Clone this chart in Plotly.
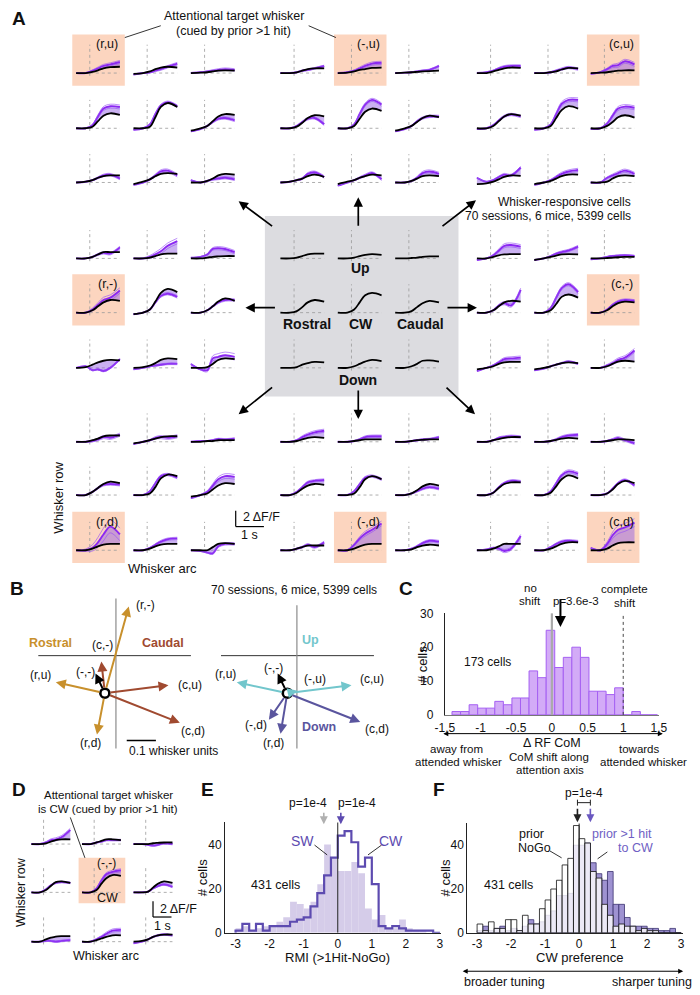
import numpy as np
import plotly.graph_objects as go

W, H = 700, 995
FONT = "Liberation Sans, Arial, Helvetica, sans-serif"

# ---------------- Panel A / D mini traces (dF/F vs time) ----------------
T_MINI = [-0.5, -0.15, 0.1, 0.3, 0.5, 0.75, 1.1]      # s, stimulus at 0
ENV_W = [0.0, 0.2, 0.5, 0.8, 1.0, 1.0, 1.0]           # relative SEM envelope

# groups: 9 sub-panels row-major (rows: up / - / down, cols: rostral / - / caudal)
BLK_RU = [[0, 0, 0.15, 0.35, 0.6, 0.75, 0.8], [-0.1, 0, 0.2, 0.5, 0.7, 0.8, 0.7], [0, 0.05, 0.1, 0.2, 0.3, 0.35, 0.3],
          [0, 0, 0.2, 0.9, 1.6, 1.9, 1.7], [0, 0, 0.2, 1.4, 2.7, 3.2, 2.7], [-0.3, 0, 0.3, 0.9, 1.5, 1.8, 1.7],
          [0, 0.1, 0.3, 0.6, 0.8, 0.9, 0.9], [-0.2, 0.1, 0.4, 0.8, 1.1, 1.2, 1.1], [0, 0, 0.2, 0.5, 0.9, 1.1, 1.0]]
PUR_RU = [[0, 0, 0.3, 0.6, 0.9, 1.1, 1.4], [-0.2, 0, 0.1, 0.3, 0.5, 0.8, 1.2], [0, 0.1, 0.2, 0.3, 0.4, 0.5, 0.4],
          [0, 0, 0.4, 1.5, 2.5, 2.8, 2.7], [-0.2, 0, 0.5, 1.8, 2.9, 3.3, 2.8], [-0.4, -0.1, 0.3, 0.8, 1.2, 1.3, 1.0],
          [0, 0.1, 0.3, 0.6, 0.9, 1.0, 0.5], [-0.3, 0, 0.4, 0.9, 1.4, 1.5, 0.9], [0.3, 0, 0.2, 0.4, 0.5, 0.6, 0.4]]
ERR_RU = [0.2, 0.15, 0.15, 0.25, 0.15, 0.15, 0.15, 0.2, 0.15]

BLK_MU = [[0, 0, 0.1, 0.3, 0.5, 0.6, 0.6], [0, 0.05, 0.2, 0.4, 0.5, 0.65, 0.7], [0, 0.05, 0.1, 0.15, 0.2, 0.25, 0.3],
          [0, 0, 0.2, 0.7, 1.3, 1.65, 1.5], [0, 0, 0.3, 1.2, 2.1, 2.5, 2.2], [-0.3, 0, 0.3, 0.8, 1.3, 1.6, 1.4],
          [0, 0.1, 0.3, 0.5, 0.8, 1.0, 0.7], [-0.2, 0.1, 0.3, 0.6, 0.8, 1.0, 0.9], [0, 0, 0.2, 0.5, 0.8, 0.9, 0.8]]
PUR_MU = [[0, 0, 0.1, 0.3, 0.4, 0.6, 0.9], [0, 0.1, 0.3, 0.6, 0.9, 1.2, 1.3], [0, 0.05, 0.1, 0.2, 0.3, 0.4, 0.9],
          [0, 0, 0.3, 0.8, 1.2, 1.3, 0.5], [0, 0, 0.5, 1.8, 3.0, 3.6, 3.0], [-0.4, -0.1, 0.3, 0.9, 1.3, 1.5, 1.5],
          [0, 0.1, 0.3, 0.5, 1.1, 1.3, 0.7], [-0.4, 0, 0.3, 0.6, 0.9, 1.2, 0.4], [0, 0, 0.2, 0.6, 1.2, 1.4, 1.1]]
ERR_MU = [0.1, 0.2, 0.1, 0.15, 0.2, 0.15, 0.15, 0.15, 0.2]

BLK_CU = [[0, 0, 0.2, 0.4, 0.6, 0.7, 0.65], [0, 0, 0.1, 0.2, 0.45, 0.65, 0.6], [0, 0.05, 0.1, 0.2, 0.3, 0.35, 0.35],
          [0, 0, 0.3, 0.9, 1.5, 1.8, 1.6], [0, 0, 0.3, 1.3, 2.3, 2.8, 2.5], [0, 0, 0.3, 0.8, 1.4, 1.65, 1.35],
          [-0.2, -0.1, 0.1, 0.4, 0.7, 0.9, 0.85], [-0.2, 0, 0.2, 0.5, 0.8, 1.0, 1.0], [0, 0, 0.1, 0.5, 0.8, 0.9, 0.8]]
PUR_CU = [[0, 0.1, 0.3, 0.6, 0.8, 0.9, 0.9], [0, 0, 0.1, 0.3, 0.5, 0.7, 0.5], [-0.1, 0.1, 0.5, 0.9, 1.0, 1.5, 1.1],
          [-0.1, 0, 0.4, 1.0, 1.5, 1.75, 1.5], [-0.2, 0, 0.5, 1.8, 3.1, 3.6, 3.6], [-0.1, 0, 0.6, 1.6, 2.5, 2.75, 2.6],
          [0.6, 0.1, 0.3, 0.7, 1.0, 0.9, 1.9], [-0.3, 0, 0.3, 0.7, 1.1, 1.4, 1.6], [0, 0, 0.6, 0.9, 1.2, 1.5, 1.1]]
ERR_CU = [0.15, 0.15, 0.25, 0.15, 0.25, 0.25, 0.15, 0.2, 0.2]

BLK_RM = [[0, 0, 0.2, 0.5, 0.8, 0.8, 0.8], [0, 0, 0.1, 0.3, 0.5, 0.6, 0.6], [0, 0, 0.1, 0.2, 0.25, 0.3, 0.3],
          [0, 0, 0.3, 0.8, 1.3, 1.6, 1.5], [-0.2, 0, 0.4, 1.4, 2.5, 3.0, 2.6], [0, 0, 0.3, 0.8, 1.4, 1.8, 1.5],
          [0, 0.1, 0.4, 0.7, 0.9, 1.0, 0.95], [0, 0.1, 0.3, 0.6, 1.0, 1.2, 1.1], [0, 0, 0.1, 0.5, 1.0, 1.2, 1.1]]
PUR_RM = [[0, 0, 0.2, 0.5, 0.7, 0.6, 1.4], [0, 0, 0.2, 0.5, 0.9, 1.6, 2.2], [0.1, 0.2, 0.5, 1.2, 1.3, 1.2, 0.8],
          [0, 0, 0.4, 1.0, 1.6, 1.9, 2.8], [-0.2, 0, 0.4, 1.3, 2.1, 2.4, 2.0], [0, 0, 0.3, 0.8, 1.3, 1.6, 1.6],
          [0, 0.2, -0.3, -0.2, -0.4, 0.0, 1.1], [-0.2, 0, 0.2, 0.3, 0.4, 0.5, 0.5], [0.5, -0.2, -0.3, 1.2, 1.4, 1.6, 1.4]]
ERR_RM = [0.15, 0.35, 0.2, 0.35, 0.15, 0.15, 0.1, 0.1, 0.4]

BLK_CTR = [[0, 0, 0.1, 0.3, 0.5, 0.6, 0.6], [0, 0, 0.1, 0.3, 0.45, 0.55, 0.45], [0, 0, 0.05, 0.1, 0.2, 0.25, 0.25],
           [0, 0, 0.2, 0.7, 1.3, 1.6, 1.4], [0, 0, 0.4, 1.3, 2.2, 2.5, 2.2], [0, 0, 0.2, 0.7, 1.2, 1.5, 1.3],
           [0, 0, 0.1, 0.4, 0.6, 0.75, 0.7], [0, 0, 0.2, 0.5, 0.8, 1.0, 0.85], [0, 0, 0.2, 0.5, 0.9, 0.95, 0.8]]

BLK_CM = [[0, 0, 0.2, 0.4, 0.5, 0.55, 0.55], [-0.2, 0, 0.2, 0.35, 0.5, 0.55, 0.5], [0, 0, 0.05, 0.1, 0.15, 0.2, 0.2],
          [0, 0, 0.3, 0.8, 1.3, 1.5, 1.4], [0, 0, 0.3, 1.1, 2.0, 2.3, 1.9], [0, 0, 0.3, 0.8, 1.2, 1.4, 1.3],
          [-0.2, 0, 0.2, 0.5, 0.7, 0.75, 0.75], [-0.2, 0, 0.2, 0.4, 0.6, 0.7, 0.6], [0, 0, 0.2, 0.5, 0.8, 0.9, 0.8]]
PUR_CM = [[-0.2, 0, 0.4, 1.0, 1.6, 1.7, 1.5], [-0.2, 0, 0.3, 0.6, 0.8, 1.0, 1.5], [-0.1, 0, 0.2, 0.3, 0.35, 0.4, 0.3],
          [0, 0, 0.3, 0.9, 1.2, 0.9, 2.9], [0, 0, 0.6, 1.9, 3.1, 3.6, 2.6], [0, 0, 0.4, 1.0, 1.4, 1.6, 1.5],
          [-0.4, 0, 0.3, 0.7, 1.1, 1.2, 1.3], [-0.3, -0.1, 0.2, 0.4, 0.6, 0.8, 0.5], [0, 0, 0.3, 0.6, 1.0, 1.3, 2.2]]
ERR_CM = [0.25, 0.15, 0.1, 0.2, 0.2, 0.15, 0.2, 0.1, 0.25]

BLK_RD = [[0, 0, 0.2, 0.4, 0.7, 0.8, 0.8], [-0.2, 0, 0.2, 0.4, 0.6, 0.7, 0.7], [0, 0, 0.1, 0.1, 0.2, 0.2, 0.2],
          [0, 0, 0.4, 0.9, 1.4, 1.7, 1.5], [0, 0, 0.2, 1.0, 2.1, 2.6, 2.4], [-0.2, 0, 0.2, 0.7, 1.2, 1.5, 1.4],
          [0, 0, 0.2, 0.5, 0.7, 0.8, 0.8], [0, 0, 0.2, 0.5, 0.7, 0.8, 0.8], [0, 0, 0, 0.4, 0.8, 0.9, 0.8]]
PUR_RD = [[0, 0, 0.1, 0.3, 0.6, 0.5, 0.9], [-0.3, 0, 0.2, 0.5, 0.6, 0.5, 0.7], [0, 0.1, 0.1, 0.2, 0.35, 0.3, 0.4],
          [0, 0, 0.4, 0.9, 1.3, 1.4, 1.3], [0, 0, 0.5, 1.5, 2.4, 2.6, 2.2], [-0.4, 0, 0.4, 1.2, 2.0, 2.4, 2.3],
          [0, 0, 0.3, 1.0, 2.0, 3.0, 2.0], [0, 0, 0.3, 0.7, 1.1, 1.4, 1.5], [0, -0.1, -0.3, -0.4, 0.5, 0.8, 0.8]]
ERR_RD = [0.2, 0.2, 0.1, 0.15, 0.15, 0.3, 0.8, 0.15, 0.15]

BLK_MD = [[0, 0, 0.1, 0.3, 0.5, 0.6, 0.5], [0, 0, 0.1, 0.2, 0.3, 0.3, 0.3], [0, 0, 0.1, 0.2, 0.25, 0.3, 0.3],
          [0, 0, 0.3, 0.8, 1.2, 1.4, 1.3], [0, 0, 0.2, 1.0, 2.0, 2.4, 2.0], [0, 0, 0.2, 0.6, 1.1, 1.4, 1.2],
          [0, 0, 0.2, 0.4, 0.6, 0.6, 0.6], [0, 0, 0.2, 0.5, 0.7, 0.8, 0.8], [0, 0, 0.1, 0.4, 0.6, 0.7, 0.6]]
PUR_MD = [[0, 0, 0.2, 0.6, 0.9, 1.2, 1.4], [0, 0, 0.1, 0.3, 0.6, 0.7, 0.7], [0, 0, 0.1, 0.2, 0.3, 0.35, 0.6],
          [0, 0, 0.4, 1.0, 1.6, 1.8, 1.9], [0, 0, 0.5, 1.4, 2.2, 2.4, 2.0], [0, 0, 0.2, 0.5, 0.8, 1.0, 0.8],
          [0, 0, 0.2, 0.4, 0.7, 0.4, 1.0], [0, 0, 0.7, 1.5, 2.1, 2.6, 3.4], [0, 0, 0.2, 0.5, 0.9, 1.2, 1.1]]
ERR_MD = [0.2, 0.15, 0.1, 0.15, 0.15, 0.15, 0.15, 0.3, 0.15]

BLK_CD = [[0, 0, 0.2, 0.35, 0.5, 0.6, 0.6], [0, 0, 0.1, 0.25, 0.4, 0.5, 0.4], [0, 0, 0.1, 0.2, 0.3, 0.3, 0.2],
          [0, 0, 0.3, 0.9, 1.4, 1.6, 1.6], [0, 0, 0.3, 1.1, 2.0, 2.5, 2.1], [0, 0, 0.2, 0.7, 1.4, 1.8, 1.5],
          [0, 0, 0.2, 0.5, 0.8, 0.8, 0.8], [0, 0, 0.2, 0.5, 0.8, 1.0, 1.0], [0, 0, 0.2, 0.6, 0.9, 1.0, 1.0]]
PUR_CD = [[0, 0, 0.2, 0.5, 0.6, 0.7, 0.6], [0, 0, 0.1, 0.3, 0.6, 0.8, 0.9], [0, 0, 0.1, 0.3, 0.5, 0.2, -0.2],
          [0, 0, 0.3, 1.0, 1.5, 1.8, 1.7], [0, 0, 0.5, 1.5, 2.5, 3.0, 2.7], [0, 0, 0.2, 0.8, 1.5, 1.9, 1.2],
          [0, 0.1, 0.3, 0.2, -0.1, 0.2, 1.8], [0, 0, 0.4, 0.8, 1.1, 1.2, 1.1], [0.3, 0, 0.8, 1.9, 2.6, 2.9, 3.5]]
ERR_CD = [0.15, 0.15, 0.15, 0.15, 0.2, 0.15, 0.2, 0.15, 0.5]

A_BOX_LABELS = ["(r,u)", "(-,u)", "(c,u)", "(r,-)", None, "(c,-)", "(r,d)", "(-,d)", "(c,d)"]

# Panel D (attended whisker = CW)
BLK_D = [[0, 0, 0.1, 0.3, 0.5, 0.6, 0.6], [0, 0, 0.2, 0.4, 0.6, 0.6, 0.5], [0, 0, 0, 0.1, 0.15, 0.2, 0.2],
         [0, 0, 0.3, 0.8, 1.3, 1.4, 1.2], [0, 0, 0.3, 1.1, 1.8, 2.2, 2.1], [0, 0, 0.1, 0.6, 1.1, 1.4, 1.2],
         [0, 0, 0.3, 0.5, 0.65, 0.7, 0.7], [0, 0, 0.2, 0.4, 0.6, 0.8, 0.8], [0, 0.1, 0.3, 0.6, 0.8, 0.9, 0.9]]
PUR_D = [[0, 0, 0.2, 0.5, 0.6, 0.9, 1.8], [0, 0, 0.2, 0.3, 0.5, 0.5, 0.5], [0, 0, -0.1, -0.2, -0.1, 0.1, 0],
         [0, 0, 0.4, 0.9, 1.2, 1.3, 1.2], [0, 0, 0.5, 1.5, 2.3, 2.6, 2.8], [0, 0, 0.1, 0.5, 0.8, 1.0, 0.7],
         [0, 0, 0.1, 0.1, 0, 0.1, 0.2], [0, 0, 0.3, 0.6, 1.0, 1.4, 1.5], [-0.2, 0, 0.3, 0.6, 0.8, 0.9, 0.8]]
ERR_D = [0.2, 0.1, 0.1, 0.1, 0.2, 0.1, 0.1, 0.2, 0.1]

# ---------------- Panel B: RF CoM shift vectors (whisker units) ----------------
B_LEFT_LABELS = ["(r,-)", "(c,-)", "(-,-)", "(r,u)", "(c,u)", "(c,d)", "(r,d)"]
B_LEFT_DX = [0.082, -0.012, -0.032, -0.168, 0.218, 0.257, -0.027]
B_LEFT_DY = [0.293, 0.107, 0.067, 0.037, 0.027, -0.100, -0.140]
B_RIGHT_LABELS = ["(r,u)", "(-,-)", "(-,u)", "(c,u)", "(-,d)", "(r,d)", "(c,d)"]
B_RIGHT_DX = [-0.173, -0.033, 0.035, 0.220, -0.063, -0.023, 0.250]
B_RIGHT_DY = [0.037, 0.067, 0.008, 0.027, -0.090, -0.137, -0.097]

# ---------------- Panel C: histogram of RF CoM shift ----------------
C_BIN_CENTERS = [-1.34, -1.22, -1.10, -0.98, -0.86, -0.74, -0.62, -0.50, -0.38, -0.26, -0.14, -0.02,
                 0.10, 0.22, 0.34, 0.46, 0.58, 0.70, 0.82, 0.94, 1.06, 1.18, 1.30, 1.42]
C_COUNTS = [1, 1, 3, 2, 2, 4, 3, 5, 5, 13, 11, 25, 14, 17, 20, 17, 7, 7, 6, 8, 0, 1, 0, 0]
C_MEDIAN = 0.12

# ---------------- Panel E: RMI histograms ----------------
E_BIN_EDGES = [round(-3 + 0.2 * k, 2) for k in range(31)]
E_SW = [2, 3, 1, 2, 3, 3, 5, 7, 14, 13, 11, 14, 22, 40, 34, 28, 28, 32, 27, 11, 6, 8, 2, 2, 6, 2, 1, 1, 0, 0]
E_CW = [1, 4, 1, 4, 1, 3, 3, 3, 5, 6, 7, 12, 18, 26, 34, 44, 46, 41, 30, 34, 22, 3, 2, 3, 2, 1, 1, 1, 1, 0]
E_MEDIANS = [-0.41, 0.09]   # SW, CW

# ---------------- Panel F: CW preference histograms ----------------
F_BIN_EDGES = [round(-3 + k / 6, 4) for k in range(37)]
F_NOGO = [4, 1, 5, 2, 2, 6, 6, 1, 8, 4, 4, 11, 15, 20, 24, 31, 34, 49, 43, 41, 28, 25, 13, 8,
          3, 4, 3, 3, 1, 2, 1, 1, 0, 0, 0, 0]
F_HIT = [1, 3, 1, 2, 3, 1, 2, 1, 3, 6, 4, 5, 8, 10, 17, 17, 18, 40, 40, 41, 32, 27, 24, 28,
         13, 13, 7, 3, 3, 3, 2, 2, 1, 1, 2, 0]
F_MEDIANS = [-0.05, 0.33]   # NoGo, >1 hit

# ---------------- colours ----------------
PURPLE = "#8c28f2"
PURPLE_FILL = "rgba(150,100,228,0.5)"
PURPLE_THIN = "rgba(150,80,245,0.9)"
ORANGE_BOX = "#fcd5bf"
GRAY_BOX = "#dcdce0"
C_ROSTRAL = "#c8902c"
C_CAUDAL = "#a04a30"
C_UP = "#72c6cc"
C_DOWN = "#5a559e"
E_DARK = "#5d4bb0"
E_LIGHT = "#d5cce9"
F_HITC = "#9e92d1"

fig = go.Figure()
LAY = {}
SHAPES = []
ANN = []
NAX = [0]


def px_x(x):
    return x / W


def px_y(y):
    return 1 - y / H


def new_axis(x0, x1, y0, y1, xr, yr, xkw=None, ykw=None):
    NAX[0] += 1
    i = NAX[0]
    s = "" if i == 1 else str(i)
    xa = dict(domain=[px_x(x0), px_x(x1)], range=xr, anchor="y" + s, visible=False, fixedrange=True,
              showgrid=False, zeroline=False)
    ya = dict(domain=[px_y(y1), px_y(y0)], range=yr, anchor="x" + s, visible=False, fixedrange=True,
              showgrid=False, zeroline=False)
    if xkw:
        xa.update(xkw)
    if ykw:
        ya.update(ykw)
    LAY["xaxis" + s] = xa
    LAY["yaxis" + s] = ya
    return "x" + s, "y" + s


def text(x, y, s, size=12, color="#111", bold=False, anchor="center", angle=0):
    if bold:
        s = "<b>" + s + "</b>"
    ANN.append(dict(x=px_x(x), y=px_y(y), xref="paper", yref="paper", text=s, showarrow=False,
                    font=dict(size=size, color=color, family=FONT), xanchor=anchor, yanchor="middle",
                    textangle=angle))


def pline(x0, y0, x1, y1, color="black", width=1.0, dash=None, layer="above"):
    SHAPES.append(dict(type="line", xref="paper", yref="paper", x0=px_x(x0), y0=px_y(y0), x1=px_x(x1),
                       y1=px_y(y1), line=dict(color=color, width=width, dash=dash), layer=layer))


def prect(x0, y0, x1, y1, color):
    SHAPES.append(dict(type="rect", xref="paper", yref="paper", x0=px_x(x0), y0=px_y(y1), x1=px_x(x1),
                       y1=px_y(y0), fillcolor=color, line=dict(width=0), layer="below"))


def parrow(hx, hy, tx, ty, color="black", width=1.5, size=1.0, head=2, side="end"):
    ANN.append(dict(x=px_x(hx), y=px_y(hy), xref="paper", yref="paper", ax=tx - hx, ay=ty - hy,
                    showarrow=True, arrowhead=head, startarrowhead=head, arrowsize=size, startarrowsize=size,
                    arrowwidth=width, arrowcolor=color, text="", arrowside=side))


def line_trace(xa, ya, xs, ys, color, width, dash=None, shape="linear"):
    fig.add_trace(go.Scatter(x=xs, y=ys, xaxis=xa, yaxis=ya, mode="lines",
                             line=dict(color=color, width=width, dash=dash, shape=shape),
                             hoverinfo="skip", showlegend=False))


def add_mini(xs, yb, blk, pur, err, kind="A"):
    if kind == "A":
        bw, up, dn, pad, dtop = 54, 39, 13, 4, 3.6
    else:
        bw, up, dn, pad, dtop = 48, 35, 11, 3.5, 3.25
    left = xs - pad
    xa, ya = new_axis(left, left + bw, yb - up, yb + dn, [-0.64, 1.28], [-dn / 8, up / 8])
    dot = dict(color="#9a9a9a", width=0.8, dash="dot")
    SHAPES.append(dict(type="line", xref=xa, yref=ya, x0=0, x1=0, y0=-0.35, y1=dtop, line=dot, layer="below"))
    SHAPES.append(dict(type="line", xref=xa, yref=ya, x0=0, x1=T_MINI[-1], y0=0, y1=0, line=dot, layer="below"))
    if pur is not None:
        fig.add_trace(go.Scatter(x=T_MINI, y=blk, xaxis=xa, yaxis=ya, mode="lines",
                                 line=dict(width=0, shape="spline", color="black"),
                                 hoverinfo="skip", showlegend=False))
        fig.add_trace(go.Scatter(x=T_MINI, y=pur, xaxis=xa, yaxis=ya, mode="lines", fill="tonexty",
                                 fillcolor=PURPLE_FILL, line=dict(color=PURPLE, width=1.9, shape="spline"),
                                 hoverinfo="skip", showlegend=False))
        upr = [p + err * w for p, w in zip(pur, ENV_W)]
        lwr = [p - err * w for p, w in zip(pur, ENV_W)]
        fig.add_trace(go.Scatter(x=T_MINI + [None] + T_MINI, y=upr + [None] + lwr, xaxis=xa, yaxis=ya,
                                 mode="lines", connectgaps=False,
                                 line=dict(color=PURPLE_THIN, width=0.7, shape="spline"),
                                 hoverinfo="skip", showlegend=False))
    fig.add_trace(go.Scatter(x=T_MINI, y=blk, xaxis=xa, yaxis=ya, mode="lines",
                             line=dict(color="black", width=1.8, shape="spline"),
                             hoverinfo="skip", showlegend=False))


# ================= PANEL A =================
A_COL_X = [[68, 127, 186], [278, 337, 396], [480, 539, 597]]
A_ROW_Y = [[67, 123, 178], [255, 310, 366], [441, 495, 551]]
A_GROUPS = [(BLK_RU, PUR_RU, ERR_RU), (BLK_MU, PUR_MU, ERR_MU), (BLK_CU, PUR_CU, ERR_CU),
            (BLK_RM, PUR_RM, ERR_RM), (BLK_CTR, None, None), (BLK_CM, PUR_CM, ERR_CM),
            (BLK_RD, PUR_RD, ERR_RD), (BLK_MD, PUR_MD, ERR_MD), (BLK_CD, PUR_CD, ERR_CD)]

prect(262, 212, 461, 395, GRAY_BOX)
for g in range(9):
    gr, gc = divmod(g, 3)
    if A_BOX_LABELS[g] is not None:
        bx = A_COL_X[gc][gc] - 4
        by = A_ROW_Y[gr][gr] - 39
        prect(bx, by, bx + 54, by + 52, ORANGE_BOX)
        text(bx + 36, by + 10, A_BOX_LABELS[g], size=12.5)

for g, (blk, pur, err) in enumerate(A_GROUPS):
    gr, gc = divmod(g, 3)
    for k in range(9):
        r, c = divmod(k, 3)
        add_mini(A_COL_X[gc][c], A_ROW_Y[gr][r], blk[k], None if pur is None else pur[k],
                 None if err is None else err[k], "A")

text(9, 12, "A", size=19, bold=True)
text(230, 9, "Attentional target whisker", size=12.5)
text(230, 24, "(cued by prior >1 hit)", size=12.5)
pline(118, 31, 155, 19, width=0.8)
pline(307, 19, 335, 31, width=0.8)
text(640, 198, "Whisker-responsive cells", size=12, anchor="right")
text(640, 212, "70 sessions, 6 mice, 5399 cells", size=12, anchor="right")
text(360, 265, "Up", size=14, bold=True)
text(305, 322, "Rostral", size=14, bold=True)
text(361, 322, "CW", size=14, bold=True)
text(422, 322, "Caudal", size=14, bold=True)
text(358, 378, "Down", size=14, bold=True)
parrow(358, 193, 358, 223, width=1.7, size=1.1)
parrow(242, 305, 273, 305, width=1.7, size=1.1)
parrow(480, 305, 449, 305, width=1.7, size=1.1)
parrow(358, 418, 358, 388, width=1.7, size=1.1)
parrow(235, 197, 270, 223, width=1.7, size=1.1)
parrow(479, 196, 444, 223, width=1.7, size=1.1)
parrow(235, 413, 270, 385, width=1.7, size=1.1)
parrow(478, 413, 448, 385, width=1.7, size=1.1)
text(50, 498, "Whisker row", size=13, angle=-90)
text(157, 570, "Whisker arc", size=13)
pline(232, 511, 232, 527, width=1.2)
pline(232, 527, 261, 527, width=1.2)
text(237, 517, "2 ΔF/F", size=12.5, anchor="left")
text(246, 536, "1 s", size=12.5)

# ================= PANEL B =================
text(7, 590, "B", size=19, bold=True)
text(292, 591, "70 sessions, 6 mice, 5399 cells", size=12)

bxa, bya = new_axis(20, 200, 598, 758, [-0.2583, 0.3417], [-0.2067, 0.3267])
line_trace(bxa, bya, [-0.228, 0.295], [0.127, 0.127], "#333", 1)
line_trace(bxa, bya, [0.038, 0.038], [-0.187, 0.32], "#8c8c8c", 1.2)
B_LEFT_COLORS = [C_ROSTRAL, C_CAUDAL, "black", C_ROSTRAL, C_CAUDAL, C_CAUDAL, C_ROSTRAL]
fig.add_trace(go.Scatter(x=[0], y=[0], xaxis=bxa, yaxis=bya, mode="markers",
                         marker=dict(symbol="circle", size=9, color="white", line=dict(color="black", width=2.6)),
                         hoverinfo="skip", showlegend=False))
for dx, dy, col in zip(B_LEFT_DX, B_LEFT_DY, B_LEFT_COLORS):
    ANN.append(dict(x=dx, y=dy, ax=0, ay=0, xref=bxa, yref=bya, axref=bxa, ayref=bya, showarrow=True,
                    arrowhead=2, arrowsize=1.0, arrowwidth=2, arrowcolor=col, text="", startstandoff=4))
line_trace(bxa, bya, [0.075, 0.175], [-0.16, -0.16], "black", 1.5)
text(120, 755, "0.1 whisker units", size=12, anchor="left")
text(42, 645, "Rostral", size=12.5, bold=True, color=C_ROSTRAL)
text(157, 645, "Caudal", size=12.5, bold=True, color=C_CAUDAL)
for lab, (lx, ly) in zip(B_LEFT_LABELS, [(139, 607), (95, 647), (78, 674), (31, 678), (185, 688), (188, 734), (83, 747)]):
    text(lx, ly, lab, size=12)

bxa2, bya2 = new_axis(210, 400, 598, 758, [-0.25, 0.3833], [-0.2067, 0.3267])
line_trace(bxa2, bya2, [-0.227, 0.297], [0.127, 0.127], "#333", 1)
line_trace(bxa2, bya2, [0.033, 0.033], [-0.187, 0.297], "#8c8c8c", 1.2)
B_RIGHT_COLORS = [C_UP, "black", C_UP, C_UP, C_DOWN, C_DOWN, C_DOWN]
fig.add_trace(go.Scatter(x=[0], y=[0], xaxis=bxa2, yaxis=bya2, mode="markers",
                         marker=dict(symbol="circle", size=9, color="white", line=dict(color="black", width=2.6)),
                         hoverinfo="skip", showlegend=False))
for dx, dy, col in zip(B_RIGHT_DX, B_RIGHT_DY, B_RIGHT_COLORS):
    ANN.append(dict(x=dx, y=dy, ax=0, ay=0, xref=bxa2, yref=bya2, axref=bxa2, ayref=bya2, showarrow=True,
                    arrowhead=2, arrowsize=1.0, arrowwidth=2, arrowcolor=col, text="", startstandoff=4))
text(309, 642, "Up", size=12.5, bold=True, color=C_UP)
text(318, 730, "Down", size=12.5, bold=True, color=C_DOWN)
for lab, (lx, ly) in zip(B_RIGHT_LABELS, [(221, 677), (271, 670), (313, 682), (372, 682), (253, 728), (271, 746), (377, 732)]):
    text(lx, ly, lab, size=12)

# ================= PANEL C =================
TICKF = dict(size=12, family=FONT, color="#111")
cxa, cya = new_axis(447, 667, 615, 718, [-1.5, 1.5], [0, 30],
                    xkw=dict(visible=True, showline=True, linecolor="#777", linewidth=1, ticks="",
                             tickvals=[-1.5, -1, -0.5, 0, 0.5, 1, 1.5],
                             ticktext=["-1.5", "-1", "-0.5", "0", "0.5", "1", "1.5"], tickfont=TICKF,
                             ticklabelstandoff=2),
                    ykw=dict(visible=True, showline=True, linecolor="#222", linewidth=1, ticks="",
                             tickvals=[0, 10, 20, 30], ticktext=["0", "10", "20", "30"], tickfont=TICKF,
                             ticklabelstandoff=8))
line_trace(cxa, cya, [1, 1], [0, 32.5], "#333", 0.9, dash="dot")
fig.add_trace(go.Bar(x=C_BIN_CENTERS, y=C_COUNTS, width=0.12, xaxis=cxa, yaxis=cya,
                     marker=dict(color="#d3abf7", line=dict(color="#a560f2", width=1)),
                     hoverinfo="skip", showlegend=False))
line_trace(cxa, cya, [0, 0], [0, 30], "#aaaaaa", 2.2)
line_trace(cxa, cya, [0, -0.05], [30, 32.5], "#888", 0.8)
ANN.append(dict(x=C_MEDIAN, y=26.0, ax=C_MEDIAN, ay=34.6, xref=cxa, yref=cya, axref=cxa, ayref=cya,
                showarrow=True, arrowhead=2, arrowsize=1.1, arrowwidth=2, arrowcolor="black", text=""))
text(407, 590, "C", size=19, bold=True)
text(535, 589, "no", size=11.5)
text(535, 602, "shift", size=11.5)
text(582, 602, "p=3.6e-3", size=11.5)
text(632, 590, "complete", size=11.5)
text(632, 604, "shift", size=11.5)
text(491, 664, "173 cells", size=12)
text(424, 667, "# cells", size=13, angle=-90)
parrow(671, 737, 450, 737, width=1, size=1.0, side="end+start")
text(557, 746, "Δ RF CoM", size=12.5)
text(554, 761, "CoM shift along", size=11.5)
text(555, 774, "attention axis", size=11.5)
text(459, 753, "away from", size=11.5)
text(461, 766, "attended whisker", size=11.5)
text(647, 753, "towards", size=11.5)
text(651, 766, "attended whisker", size=11.5)

# ================= PANEL D =================
text(9, 794, "D", size=19, bold=True)
text(101, 799, "Attentional target whisker", size=11.5)
text(101, 813, "is CW (cued by prior >1 hit)", size=11.5)
D_COL_X = [22, 74, 127]
D_ROW_Y = [849, 898, 948]
prect(D_COL_X[1] - 3.5, D_ROW_Y[1] - 35, D_COL_X[1] + 44.5, D_ROW_Y[1] + 11, ORANGE_BOX)
for k in range(9):
    r, c = divmod(k, 3)
    add_mini(D_COL_X[c], D_ROW_Y[r], BLK_D[k], PUR_D[k], ERR_D[k], "D")
pline(62, 822, 77, 863, width=0.8)
text(99, 868, "(-,-)", size=12)
text(100, 904, "CW", size=12.5)
text(12, 898, "Whisker row", size=12.5, angle=-90)
text(99, 963, "Whisker arc", size=12.5)
pline(147, 907, 147, 923, width=1.2)
pline(147, 923, 166, 923, width=1.2)
text(152, 915, "2 ΔF/F", size=12.5, anchor="left")
text(157, 932, "1 s", size=12.5)

# ================= PANEL E =================
text(203, 794, "E", size=19, bold=True)
TICKX = dict(tickvals=[-3, -2, -1, 0, 1, 2, 3], ticktext=["-3", "-2", "-1", "0", "1", "2", "3"])
TICKY = dict(tickvals=[0, 20, 40], ticktext=["0", "20", "40"])
exa, eya = new_axis(221, 443, 827, 939, [-3.31, 3.03], [0, 50],
                    xkw=dict(visible=True, showline=True, linecolor="#222", ticks="", tickfont=TICKF, **TICKX),
                    ykw=dict(visible=True, showline=True, linecolor="#222", ticks="", tickfont=TICKF, **TICKY))
e_centers = [(a + b) / 2 for a, b in zip(E_BIN_EDGES[:-1], E_BIN_EDGES[1:])]
fig.add_trace(go.Bar(x=e_centers, y=E_SW, width=0.2, xaxis=exa, yaxis=eya,
                     marker=dict(color=E_LIGHT, line=dict(width=0)), hoverinfo="skip", showlegend=False))
line_trace(exa, eya, [E_BIN_EDGES[0]] + E_BIN_EDGES, [0] + E_CW + [0], E_DARK, 2.2, shape="hv")
line_trace(exa, eya, [0, 0], [0, 50], "#222", 1)
ANN.append(dict(x=E_MEDIANS[0], y=px_y(829), xref=exa, yref="paper", ax=0, ay=-13, showarrow=True,
                arrowhead=2, arrowsize=1.0, arrowwidth=1.6, arrowcolor="#b0b0b0", text=""))
ANN.append(dict(x=E_MEDIANS[1], y=px_y(829), xref=exa, yref="paper", ax=0, ay=-13, showarrow=True,
                arrowhead=2, arrowsize=1.0, arrowwidth=1.6, arrowcolor=E_DARK, text=""))
text(306, 807, "p=1e-4", size=12)
text(357, 807, "p=1e-4", size=12)
text(301, 846, "SW", size=14, color=E_DARK)
text(392, 846, "CW", size=14, color=E_DARK)
pline(313, 850, 326, 860, width=0.8)
pline(382, 850, 368, 860, width=0.8)
text(273, 891, "431 cells", size=12.5)
text(198, 883, "# cells", size=13, angle=-90)
text(337, 964, "RMI (>1Hit-NoGo)", size=13)

# ================= PANEL F =================
text(441, 794, "F", size=19, bold=True)
fxa, fya = new_axis(470, 692, 828, 939, [-3.29, 3.06], [0, 50],
                    xkw=dict(visible=True, showline=True, linecolor="#222", ticks="", tickfont=TICKF, **TICKX),
                    ykw=dict(visible=True, showline=True, linecolor="#222", ticks="", tickfont=TICKF, **TICKY))
f_centers = [(a + b) / 2 for a, b in zip(F_BIN_EDGES[:-1], F_BIN_EDGES[1:])]
fig.add_trace(go.Bar(x=f_centers, y=F_HIT, width=1 / 6, xaxis=fxa, yaxis=fya,
                     marker=dict(color=F_HITC, line=dict(color="#3b3270", width=0.8)),
                     hoverinfo="skip", showlegend=False))
fig.add_trace(go.Bar(x=f_centers, y=F_NOGO, width=1 / 6, xaxis=fxa, yaxis=fya,
                     marker=dict(color="rgba(255,255,255,0.8)", line=dict(color="#111", width=0.8)),
                     hoverinfo="skip", showlegend=False))
line_trace(fxa, fya, [0, 0], [0, 50], "#222", 1)
ANN.append(dict(x=F_MEDIANS[0], y=px_y(827), xref=fxa, yref="paper", ax=0, ay=-15, showarrow=True,
                arrowhead=2, arrowsize=1.0, arrowwidth=1.6, arrowcolor="#222", text=""))
ANN.append(dict(x=F_MEDIANS[1], y=px_y(827), xref=fxa, yref="paper", ax=0, ay=-15, showarrow=True,
                arrowhead=2, arrowsize=1.0, arrowwidth=1.6, arrowcolor="#6a58c0", text=""))
for x0, y0, x1, y1 in [(F_MEDIANS[0], 807, F_MEDIANS[1], 807), (F_MEDIANS[0], 804, F_MEDIANS[0], 810),
                       (F_MEDIANS[1], 804, F_MEDIANS[1], 810)]:
    SHAPES.append(dict(type="line", xref=fxa, yref="paper", x0=x0, x1=x1, y0=px_y(y0), y1=px_y(y1),
                       line=dict(color="#222", width=1)))
text(590, 797, "p=1e-4", size=12)
text(536, 839, "prior", size=12.5)
text(539, 853, "NoGo", size=12.5)
pline(555, 856, 567, 863, width=0.8)
text(629, 839, "prior >1 hit", size=12.5, color="#6f5fc4")
text(643, 853, "to CW", size=12.5, color="#6f5fc4")
pline(604, 864, 614, 857, width=0.8)
text(512, 891, "431 cells", size=12.5)
text(448, 883, "# cells", size=13, angle=-90)
text(585, 964, "CW preference", size=13)
parrow(692, 978, 470, 978, width=1, size=1.0, side="end+start")
text(508, 989, "broader tuning", size=12.5)
text(660, 989, "sharper tuning", size=12.5)

fig.update_layout(width=W, height=H, autosize=False, margin=dict(l=0, r=0, t=0, b=0, pad=0),
                  paper_bgcolor="white", plot_bgcolor="rgba(0,0,0,0)", showlegend=False,
                  hovermode=False, barmode="overlay", font=dict(family=FONT, color="#111"),
                  shapes=SHAPES, annotations=ANN, **LAY)

fig.write_html("out.html", config={"staticPlot": True},
               post_script="document.body.style.margin='0';")
